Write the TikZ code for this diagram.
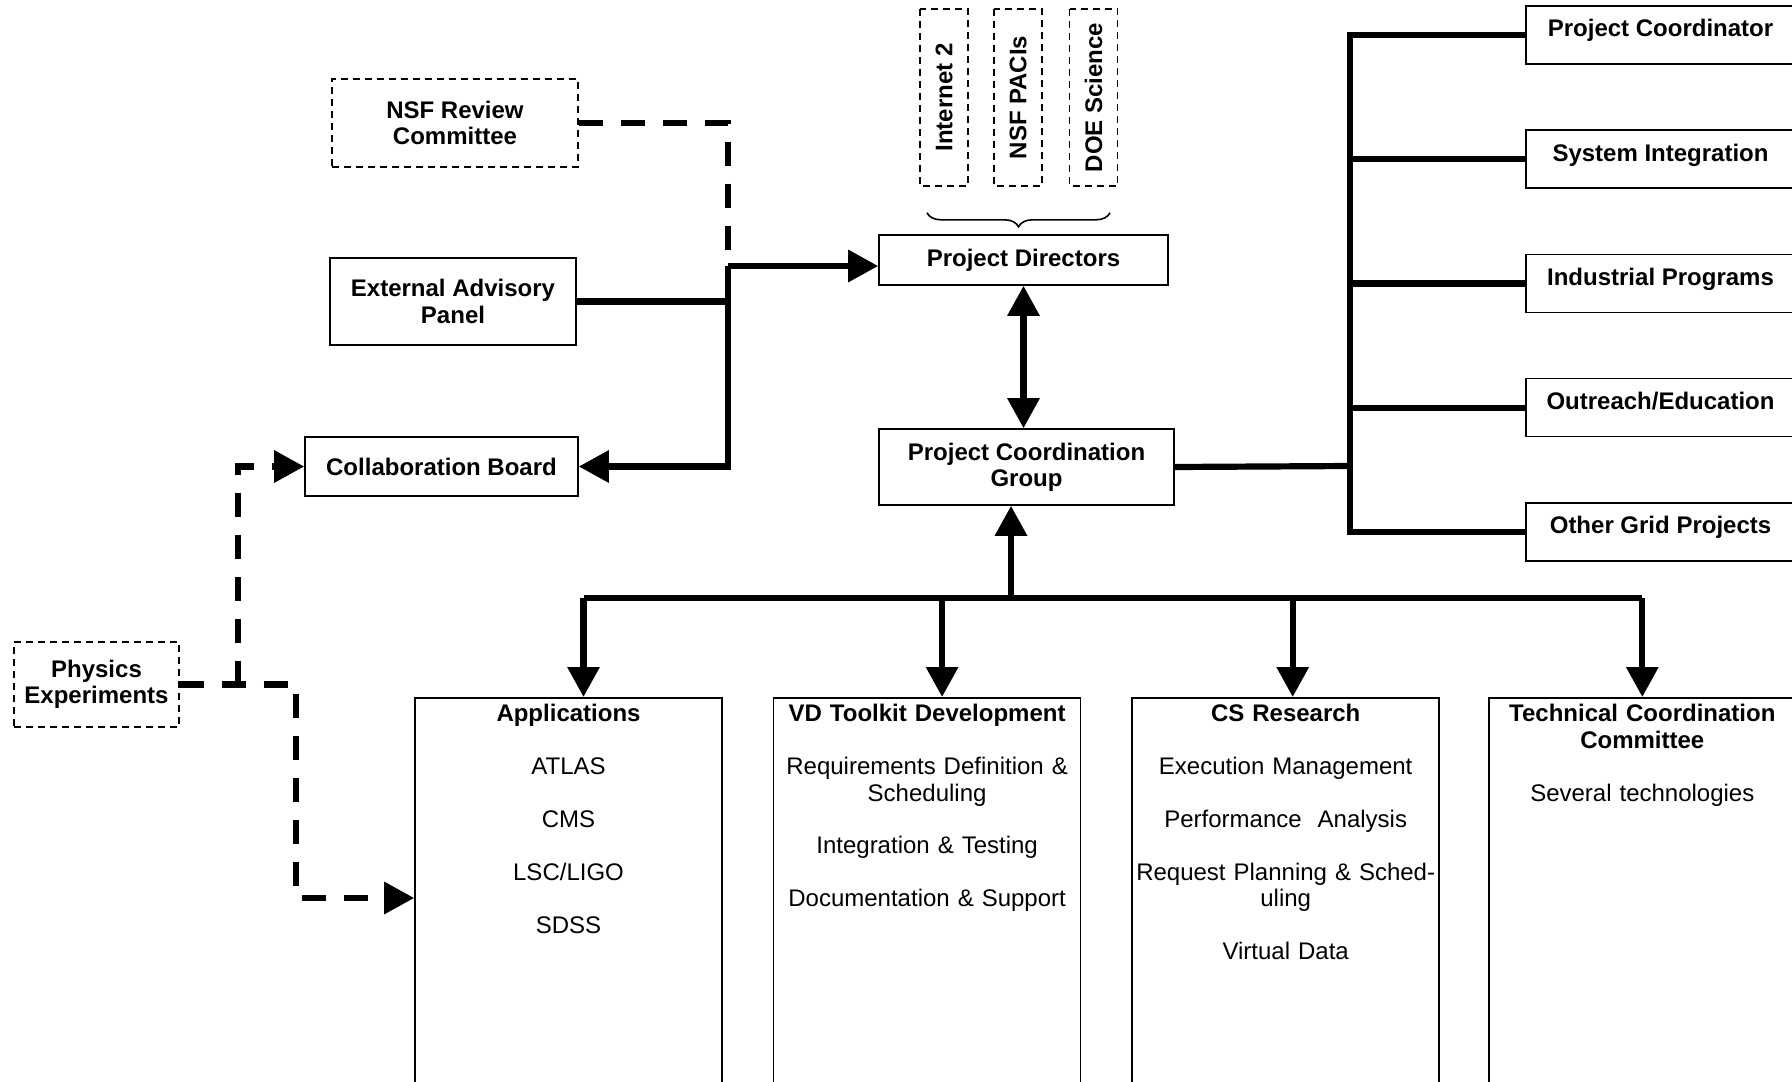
\documentclass[tikz,border=0pt]{standalone}
\usepackage{fontspec}
\setmainfont{Liberation Sans}
\usetikzlibrary{arrows.meta,positioning,calc,decorations.pathreplacing}
\newcommand{\boxfont}{\fontsize{12}{13.2}\selectfont}

\begin{document}
\begin{tikzpicture}[x=0.5pt,y=-0.5pt,
      font=\boxfont\bfseries,
      unit/.style={draw,line width=0.8pt,align=center,inner sep=2pt},
      ext/.style={unit,dash pattern=on 3.5pt off 2.5pt},
      vert/.style={ext,rotate=90,minimum width=88.5pt,minimum height=24pt},
      side/.style={unit,minimum width=134.5pt,minimum height=29pt,text height=9pt,text depth=7pt},
      col/.style={unit,anchor=north,text width=151.5pt,inner xsep=1pt,inner ysep=3pt,
                  text height=9pt,text depth=210pt},
      ln/.style={line width=3.1pt},
      ar/.style={ln,-{Triangle[length=15pt,width=15.5pt]}},
      ar2/.style={ln,{Triangle[length=15pt,width=15.5pt]}-{Triangle[length=15pt,width=15.5pt]}},
      dln/.style={ln,dash pattern=on 12pt off 9pt},
      dar/.style={ar,dash pattern=on 12pt off 9pt},
      brc/.style={decorate,decoration={brace,mirror,amplitude=7pt},line width=0.8pt}]
      \useasboundingbox (0,0) rectangle (1792,1081);
      \clip (0,0) rectangle (1792,1081);
      \node[ext,minimum width=123pt,minimum height=44pt] (nsf) at (455,123) {NSF Review\\Committee};
      \node[unit,minimum width=123pt,minimum height=43.5pt] (eap) at (453,301.5) {External Advisory\\Panel};
      \node[unit,minimum width=136.5pt,minimum height=29.5pt] (cb) at (441.5,466.5) {Collaboration Board};
      \node[ext,minimum width=82.5pt,minimum height=42.5pt] (phys) at (96.5,684.5) {Physics\\Experiments};
      \node[unit,minimum width=144.5pt,minimum height=25pt] (pd) at (1023.5,260) {Project Directors};
      \node[vert] (inet) at (944,97.5) {Internet 2};
      \node[vert] (pacis) at (1018,97.5) {NSF PACIs};
      \node[vert] (doe) at (1093.5,97.5) {DOE Science};
      \node[unit,minimum width=147.5pt,minimum height=38pt] (pcg) at (1026.5,467) {Project Coordination\\Group};
      \node[side] (pc) at (1660.5,35) {Project Coordinator};
      \node[side,below=32.3pt of pc] (si) {System Integration};
      \node[side,below=32.3pt of si] (ip) {Industrial Programs};
      \node[side,below=32.3pt of ip] (oe) {Outreach/Education};
      \node[side,below=32.3pt of oe] (og) {Other Grid Projects};
      \node[col] (apps) at (568.5,697) {Applications\\[13.2pt]\mdseries ATLAS\\[13.2pt]CMS\\[13.2pt]LSC/LIGO\\[13.2pt]SDSS};
      \node[col,right=25pt of apps] (vd) {VD Toolkit Development\\[13.2pt]\mdseries Requirements Definition \&\\Scheduling\\[13.2pt]Integration \& Testing\\[13.2pt]Documentation \& Support};
      \node[col,right=25pt of vd] (cs) {CS Research\\[13.2pt]\mdseries Execution Management\\[13.2pt]Performance\ \ Analysis\\[13.2pt]Request Planning \& Sched-\\uling\\[13.2pt]Virtual Data};
      \node[col,right=24pt of cs] (tech) {Technical Coordination\\Committee\\[13.2pt]\mdseries Several technologies};
      \coordinate (jn) at (728,266);
      \coordinate (up) at (238,684.5);
      \coordinate (dn) at (296,898);
      \coordinate (bus) at (1011,598);
      \coordinate (tr) at (1350,466);
      \draw[brc] ($(inet.west)+(-17,26)$) -- ($(doe.west)+(16.5,26)$);
      \draw[dln] (nsf.east) -| (jn); \draw[ln] (eap.east) -- (eap.east -| jn);
      \draw[ar] (jn) -- (jn -| pd.west); \draw[ar] (jn) |- (cb.east);
      \draw[dar] (up) |- (cb.west); \draw[dar] (phys.east) -| (dn) -- (dn -| apps.west);
      \draw[ar2] (pd.south) -- (pd.south |- pcg.north);
      \draw[ln] (pcg.east) -- (tr);
      \draw[ln] (pc.west) -| (tr |- og.west) -- (og.west);
      \draw[ln] (si.west -| tr) -- (si.west); \draw[ln] (ip.west -| tr) -- (ip.west);
      \draw[ln] (oe.west -| tr) -- (oe.west);
      \draw[ln] ([xshift=7.5pt]apps.north |- bus) -- (tech.north |- bus);
      \draw[ar] (bus) -- (bus |- pcg.south);
      \draw[ar] ([xshift=7.5pt]apps.north |- bus) -- ([xshift=7.5pt]apps.north);
      \draw[ar] ([xshift=7.5pt]vd.north |- bus) -- ([xshift=7.5pt]vd.north);
      \draw[ar] ([xshift=3.5pt]cs.north |- bus) -- ([xshift=3.5pt]cs.north);
      \draw[ar] (tech.north |- bus) -- (tech.north);
    \end{tikzpicture}
\end{document}
